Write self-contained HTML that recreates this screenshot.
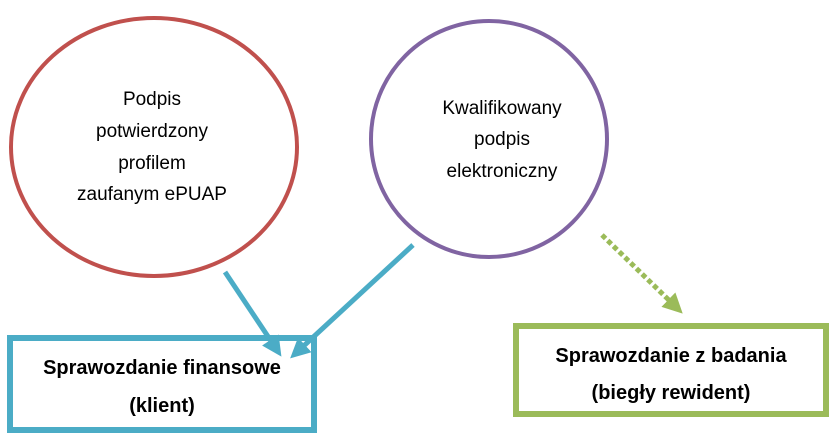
<!DOCTYPE html>
<html><head><meta charset="utf-8"><style>
html,body{margin:0;padding:0;background:#fff;width:836px;height:436px;overflow:hidden}
svg text{font-family:"Liberation Sans",Arial,sans-serif}
</style></head><body>
<svg width="836" height="436" viewBox="0 0 836 436" xmlns="http://www.w3.org/2000/svg">
<defs>
<marker id="ab" markerWidth="4" markerHeight="4" refX="2.4" refY="2" orient="auto" markerUnits="strokeWidth"><path d="M0,0 L4,2 L0,4 Z" fill="#4bacc6"/></marker>
<marker id="ag" markerWidth="4" markerHeight="4" refX="2.4" refY="2" orient="auto" markerUnits="strokeWidth"><path d="M0,0 L4,2 L0,4 Z" fill="#9bbb59"/></marker>
</defs>
<ellipse cx="154" cy="147" rx="143" ry="129" fill="none" stroke="#c0504d" stroke-width="4"/>
<ellipse cx="489" cy="139" rx="118" ry="118" fill="none" stroke="#8064a2" stroke-width="4"/>
<g font-size="19" text-anchor="middle" fill="#000">
<text x="152" y="105">Podpis</text>
<text x="152" y="137">potwierdzony</text>
<text x="152" y="169">profilem</text>
<text x="152" y="200">zaufanym ePUAP</text>
<text x="502" y="114">Kwalifikowany</text>
<text x="502" y="145">podpis</text>
<text x="502" y="177">elektroniczny</text>
</g>
<rect x="10" y="338" width="304" height="92" fill="#fff" stroke="#4bacc6" stroke-width="6"/>
<rect x="516" y="326" width="310" height="88" fill="#fff" stroke="#9bbb59" stroke-width="6"/>
<line x1="225" y1="272" x2="277" y2="350" stroke="#4bacc6" stroke-width="5" marker-end="url(#ab)"/>
<line x1="413" y1="245" x2="296" y2="353" stroke="#4bacc6" stroke-width="5" marker-end="url(#ab)"/>
<line x1="602" y1="235" x2="677" y2="308" stroke="#9bbb59" stroke-width="5" stroke-dasharray="5 3" marker-end="url(#ag)"/>
<g font-size="20" font-weight="bold" text-anchor="middle" fill="#000">
<text x="162" y="374">Sprawozdanie finansowe</text>
<text x="162" y="412">(klient)</text>
<text x="671" y="362">Sprawozdanie z badania</text>
<text x="671" y="399">(biegły rewident)</text>
</g>
</svg>
</body></html>
